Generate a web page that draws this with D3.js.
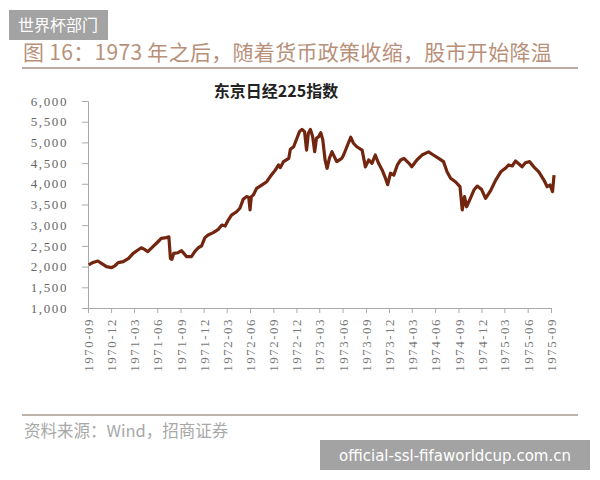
<!DOCTYPE html>
<html>
<head>
<meta charset="utf-8">
<script src="https://cdn.jsdelivr.net/npm/d3@7"></script>
<style>
  body { margin: 0; background: #fff; }
  svg { display: block; }
</style>
</head>
<body>
<script>
var width = 600;
var height = 480;

// index values
var dates = [
  "1970-09-04", "1970-09-21", "1970-10-10", "1970-10-24", "1970-11-13", "1970-12-03",
  "1970-12-16", "1970-12-29", "1971-01-18", "1971-02-08", "1971-02-26", "1971-03-17",
  "1971-03-30", "1971-04-12", "1971-04-25", "1971-05-15", "1971-06-04", "1971-06-17",
  "1971-07-07", "1971-07-17", "1971-07-23", "1971-07-29", "1971-08-05", "1971-08-22",
  "1971-09-05", "1971-09-14", "1971-09-25", "1971-10-14", "1971-10-27", "1971-11-10",
  "1971-11-23", "1971-12-06", "1971-12-19", "1972-01-08", "1972-01-28", "1972-02-11",
  "1972-02-24", "1972-03-07", "1972-03-20", "1972-04-09", "1972-04-22", "1972-05-05",
  "1972-05-18", "1972-05-27", "1972-06-01", "1972-06-06", "1972-06-14", "1972-06-27",
  "1972-07-17", "1972-08-06", "1972-08-19", "1972-09-09", "1972-09-21", "1972-09-28",
  "1972-10-11", "1972-11-01", "1972-11-07", "1972-11-20", "1972-12-03", "1972-12-13",
  "1972-12-23", "1973-01-02", "1973-01-10", "1973-01-17", "1973-01-25", "1973-02-03",
  "1973-02-11", "1973-02-18", "1973-02-27", "1973-03-07", "1973-03-15", "1973-03-24",
  "1973-04-01", "1973-04-10", "1973-04-20", "1973-05-09", "1973-05-29", "1973-06-05",
  "1973-06-18", "1973-07-03", "1973-07-14", "1973-07-27", "1973-08-17", "1973-08-30",
  "1973-09-12", "1973-09-25", "1973-10-08", "1973-10-21", "1973-11-04", "1973-11-17",
  "1973-11-26", "1973-12-07", "1973-12-20", "1974-01-03", "1974-01-16", "1974-01-29",
  "1974-02-18", "1974-03-01", "1974-03-21", "1974-04-10", "1974-05-06", "1974-05-25",
  "1974-06-15", "1974-07-04", "1974-07-18", "1974-08-01", "1974-08-20", "1974-09-07",
  "1974-09-16", "1974-09-25", "1974-10-03", "1974-10-18", "1974-11-01", "1974-11-14",
  "1974-12-01", "1974-12-17", "1975-01-07", "1975-01-26", "1975-02-15", "1975-03-05",
  "1975-03-18", "1975-04-01", "1975-04-14", "1975-05-10", "1975-05-23", "1975-06-09",
  "1975-06-25", "1975-07-15", "1975-08-04", "1975-08-17", "1975-08-28", "1975-09-07",
  "1975-09-13"
];
var values = [
  2040, 2100, 2135, 2080, 2000, 1975,
  2020, 2095, 2120, 2200, 2320, 2400,
  2455, 2415, 2360, 2480, 2600, 2680,
  2700, 2720, 2200, 2175, 2320, 2335,
  2385, 2320, 2240, 2240, 2360, 2455,
  2500, 2700, 2765, 2820, 2900, 3005,
  2980, 3125, 3245, 3325, 3410, 3625,
  3690, 3675, 3370, 3690, 3730, 3890,
  3970, 4050, 4170, 4335, 4455, 4390,
  4535, 4615, 4835, 4895, 5100, 5260,
  5315, 5260, 4815, 5220, 5315, 5140,
  4775, 5100, 5140, 5235, 5060, 4575,
  4375, 4615, 4775, 4535, 4615, 4695,
  4895, 5125, 4980, 4895, 4815, 4410,
  4575, 4495, 4695, 4495, 4335, 4135,
  3980, 4255, 4210, 4455, 4575, 4615,
  4495, 4410, 4575, 4695, 4770, 4695,
  4615, 4535, 4290, 4135, 4050, 3930,
  3370, 3690, 3445, 3650, 3850, 3945,
  3865, 3650, 3850, 4090, 4290, 4375,
  4455, 4430, 4550, 4410, 4510, 4535,
  4410, 4290, 4090, 3930, 3970, 3810,
  4210
];

var tickLabels = [
  "1970-09", "1970-12", "1971-03", "1971-06", "1971-09", "1971-12", "1972-03",
  "1972-06", "1972-09", "1972-12", "1973-03", "1973-06", "1973-09", "1973-12",
  "1974-03", "1974-06", "1974-09", "1974-12", "1975-03", "1975-06", "1975-09"
];
var yTicks = [1000, 1500, 2000, 2500, 3000, 3500, 4000, 4500, 5000, 5500, 6000];

var headline = "图 16：1973 年之后，随着货币政策收缩，股市开始降温";
var chartTitle = "东京日经225指数";
var sourceText = "资料来源：Wind，招商证券";
var markTopLeft = "世界杯部门";
var markBottomRight = "official-ssl-fifaworldcup.com.cn";

var parseDay = d3.timeParse("%Y-%m-%d");
var parseMonth = d3.timeParse("%Y-%m");

var data = dates.map(function(d, i) {
  return { date: parseDay(d), value: values[i] };
});

var svg = d3.select('body').append('svg')
            .attr('width', width)
            .attr('height', height);

var serif = "'Liberation Serif', 'Times New Roman', serif";
var cjk = "'Noto Sans CJK SC', sans-serif";

// headline and rules
svg.append('text')
   .attr('x', 23)
   .attr('y', 60)
   .attr('font-family', cjk)
   .attr('font-size', 21)
   .attr('letter-spacing', 0.3)
   .attr('fill', '#b8907a')
   .text(headline);

svg.append('line')
   .attr('x1', 22).attr('x2', 578)
   .attr('y1', 68).attr('y2', 68)
   .attr('stroke', '#a88f82')
   .attr('stroke-width', 1.5);

svg.append('line')
   .attr('x1', 22).attr('x2', 578)
   .attr('y1', 415).attr('y2', 415)
   .attr('stroke', '#a89890')
   .attr('stroke-width', 1.5);

svg.append('text')
   .attr('x', 24)
   .attr('y', 437)
   .attr('font-family', cjk)
   .attr('font-size', 16.5)
   .attr('fill', '#a8a8a8')
   .text(sourceText);

svg.append('text')
   .attr('x', 276)
   .attr('y', 97)
   .attr('text-anchor', 'middle')
   .attr('font-family', cjk)
   .attr('font-weight', 'bold')
   .attr('font-size', 16)
   .attr('fill', '#222')
   .text(chartTitle);

// scales and axes
var x = d3.scaleTime()
          .domain([parseMonth(tickLabels[0]), parseMonth(tickLabels[tickLabels.length - 1])])
          .range([88, 551]);
var y = d3.scaleLinear()
          .domain([1000, 6000])
          .range([308, 101]);

var yAxis = d3.axisLeft(y)
              .tickValues(yTicks)
              .tickSize(6)
              .tickPadding(14)
              .tickFormat(d3.format(','));
var xAxis = d3.axisBottom(x)
              .tickValues(tickLabels.map(parseMonth))
              .tickSize(5)
              .tickFormat(d3.timeFormat('%Y-%m'));

var yAxisG = svg.append('g')
                .attr('class', 'axis yaxis')
                .attr('transform', 'translate(88,0)')
                .call(yAxis);
var xAxisG = svg.append('g')
                .attr('class', 'axis xaxis')
                .attr('transform', 'translate(0,308)')
                .call(xAxis);

svg.selectAll('.axis path, .axis line')
   .attr('stroke', '#aaa');

yAxisG.selectAll('text')
      .attr('font-family', serif)
      .attr('font-size', 13)
      .attr('letter-spacing', 1.6)
      .attr('fill', '#666');

xAxisG.selectAll('text')
      .attr('font-family', serif)
      .attr('font-size', 13)
      .attr('letter-spacing', 1.5)
      .attr('fill', '#777')
      .attr('text-anchor', 'end')
      .attr('transform', 'rotate(-90)')
      .attr('x', -10)
      .attr('y', 0)
      .attr('dy', '0.35em');

// index line
var line = d3.line()
             .x(d => x(d.date))
             .y(d => y(d.value));

svg.append('path')
   .datum(data)
   .attr('d', line)
   .attr('fill', 'none')
   .attr('stroke', '#72260f')
   .attr('stroke-width', 3.2)
   .attr('stroke-linejoin', 'round');

// watermarks
svg.append('rect')
   .attr('x', 9).attr('y', 10)
   .attr('width', 99).attr('height', 30)
   .attr('fill', '#a3a3a3');
svg.append('text')
   .attr('x', 58).attr('y', 31)
   .attr('text-anchor', 'middle')
   .attr('font-family', cjk)
   .attr('font-size', 16)
   .attr('fill', '#fff')
   .text(markTopLeft);

svg.append('rect')
   .attr('x', 320).attr('y', 440)
   .attr('width', 270).attr('height', 30)
   .attr('fill', '#a3a3a3');
svg.append('text')
   .attr('x', 455).attr('y', 461)
   .attr('text-anchor', 'middle')
   .attr('font-family', "'DejaVu Sans', sans-serif")
   .attr('font-size', 15)
   .attr('fill', '#fff')
   .text(markBottomRight);
</script>
</body>
</html>
